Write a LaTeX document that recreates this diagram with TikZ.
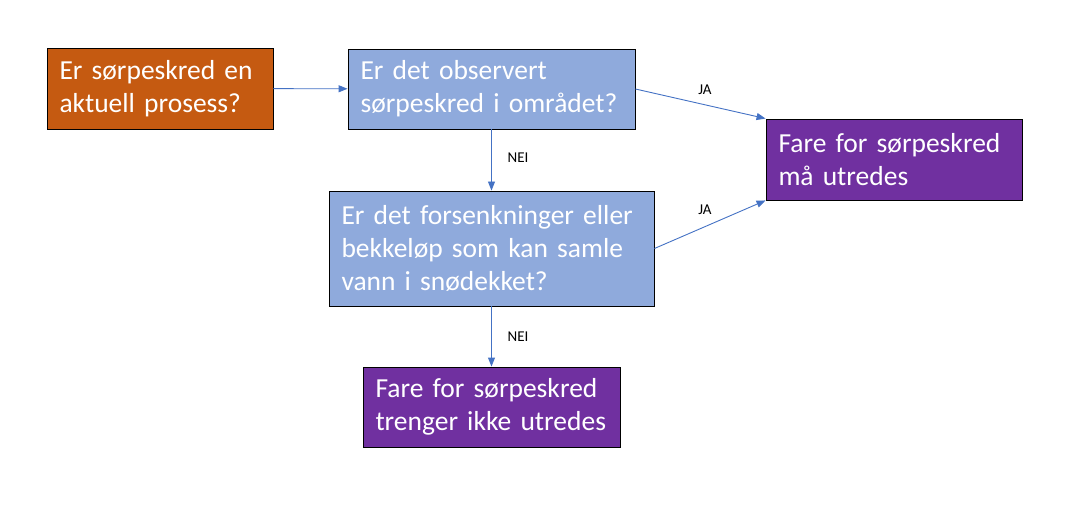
\documentclass[tikz,border=0pt]{standalone}
\usepackage{fontspec}
\setmainfont{Carlito}
\usetikzlibrary{arrows.meta}
\definecolor{orangebox}{HTML}{C55A11}
\definecolor{bluebox}{HTML}{8FAADC}
\definecolor{purplebox}{HTML}{7030A0}
\definecolor{arrowblue}{HTML}{4472C4}
\tikzset{
  box/.style={draw=black, line width=0.9pt, text=white, align=left, inner sep=0pt,
    font=\fontsize{27.5}{33}\selectfont, anchor=center},
  conn/.style={draw=arrowblue, line width=0.9pt, -{Triangle[length=9pt,width=7pt]}},
  lbl/.style={font=\fontsize{15}{17}\selectfont, text=black}
}
\begin{document}
\begin{tikzpicture}[x=1pt,y=-1pt]
\useasboundingbox (0,0) rectangle (1077,505);
\node[box, fill=orangebox, minimum width=226pt, minimum height=81pt, text width=201pt] (A) at (160,88.5) {Er sørpeskred en\\aktuell prosess?};
\node[box, fill=bluebox, minimum width=287pt, minimum height=80pt, text width=262pt] (B) at (491.5,89) {Er det observert\\sørpeskred i området?};
\node[box, fill=purplebox, minimum width=256pt, minimum height=81pt, text width=231pt] (C) at (894,159.5) {Fare for sørpeskred\\må utredes};
\node[box, fill=bluebox, minimum width=325pt, minimum height=115pt, text width=300pt] (D) at (491.5,248.5) {Er det forsenkninger eller\\bekkeløp som kan samle\\vann i snødekket?};
\node[box, fill=purplebox, minimum width=257pt, minimum height=80pt, text width=232pt] (E) at (491.5,407) {Fare for sørpeskred\\trenger ikke utredes};
\draw[conn] (A) -- (B);
\draw[conn] (B.east) -- (C.north west);
\draw[conn] (B) -- (D);
\draw[conn] (D.east) -- (C.south west);
\draw[conn] (D) -- (E);
\node[lbl] (ja1) at (705,90) {JA};
\node[lbl] (ja2) at (705,210) {JA};
\node[lbl] (nei1) at (518,158) {NEI};
\node[lbl] (nei2) at (518,337) {NEI};
\end{tikzpicture}
\end{document}
